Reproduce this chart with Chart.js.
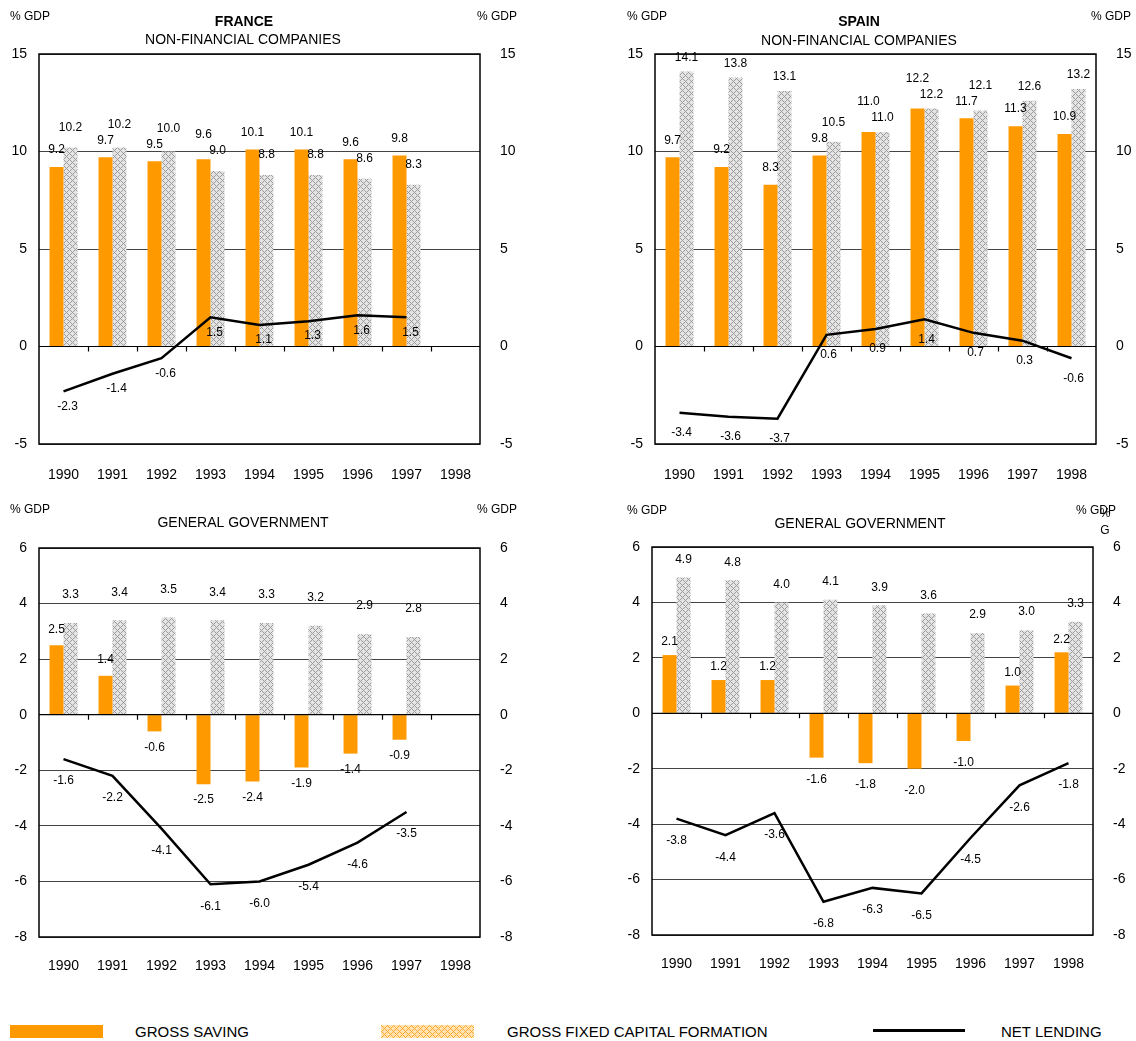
<!DOCTYPE html>
<html>
<head>
<meta charset="utf-8">
<script src="https://cdn.jsdelivr.net/npm/chart.js@4.4.1/dist/chart.umd.min.js"></script>
<style>
  body { margin:0; background:#fff; width:1136px; height:1041px; position:relative; overflow:hidden;
         font-family:"Liberation Sans", Arial, sans-serif; }
  .pane { position:absolute; }
  .lg { position:absolute; font-size:15px; line-height:16px; color:#000; white-space:nowrap; }
</style>
</head>
<body>
<div class="pane" style="left:0;top:0"><canvas id="frNfc" width="560" height="490"></canvas></div>
<div class="pane" style="left:568px;top:0"><canvas id="esNfc" width="568" height="490"></canvas></div>
<div class="pane" style="left:0;top:495px"><canvas id="frGov" width="560" height="490"></canvas></div>
<div class="pane" style="left:568px;top:495px"><canvas id="esGov" width="568" height="490"></canvas></div>

<div class="lg" style="left:10px;top:1025px;width:93px;height:13px;background:#ff9900"></div>
<div class="lg" style="left:135px;top:1024px">GROSS SAVING</div>
<canvas id="lgHatch" class="lg" width="93" height="13" style="left:381px;top:1025px"></canvas>
<div class="lg" style="left:507px;top:1024px">GROSS FIXED CAPITAL FORMATION</div>
<div class="lg" style="left:873px;top:1029px;width:92px;height:3px;background:#000"></div>
<div class="lg" style="left:1001px;top:1024px">NET LENDING</div>

<script>
// années
const years = ['1990', '1991', '1992', '1993', '1994', '1995', '1996', '1997', '1998'];

// France - sociétés non financières
const frNfcSaving  = [9.2, 9.7, 9.5, 9.6, 10.1, 10.1, 9.6, 9.8, null];
const frNfcInvest  = [10.2, 10.2, 10.0, 9.0, 8.8, 8.8, 8.6, 8.3, null];
const frNfcLending = [-2.3, -1.4, -0.6, 1.5, 1.1, 1.3, 1.6, 1.5, null];

// Espagne - sociétés non financières
const esNfcSaving  = [9.7, 9.2, 8.3, 9.8, 11.0, 12.2, 11.7, 11.3, 10.9];
const esNfcInvest  = [14.1, 13.8, 13.1, 10.5, 11.0, 12.2, 12.1, 12.6, 13.2];
const esNfcLending = [-3.4, -3.6, -3.7, 0.6, 0.9, 1.4, 0.7, 0.3, -0.6];

// France - administrations publiques
const frGovSaving  = [2.5, 1.4, -0.6, -2.5, -2.4, -1.9, -1.4, -0.9, null];
const frGovInvest  = [3.3, 3.4, 3.5, 3.4, 3.3, 3.2, 2.9, 2.8, null];
const frGovLending = [-1.6, -2.2, -4.1, -6.1, -6.0, -5.4, -4.6, -3.5, null];

// Espagne - administrations publiques
const esGovSaving  = [2.1, 1.2, 1.2, -1.6, -1.8, -2.0, -1.0, 1.0, 2.2];
const esGovInvest  = [4.9, 4.8, 4.0, 4.1, 3.9, 3.6, 2.9, 3.0, 3.3];
const esGovLending = [-3.8, -4.4, -3.6, -6.8, -6.3, -6.5, -4.5, -2.6, -1.8];

// graduations
const nfcTicks = [-5, 0, 5, 10, 15];
const govTicks = [-8, -6, -4, -2, 0, 2, 4, 6];

const FONT = '"Liberation Sans", Arial, sans-serif';
Chart.defaults.font.family = FONT;
Chart.defaults.color = '#000';

// motif quadrillé des barres FBCF
function hatch(dark, light, n) {
  const t = document.createElement('canvas');
  t.width = n; t.height = n;
  const c = t.getContext('2d');
  c.fillStyle = light; c.fillRect(0, 0, n, n);
  c.fillStyle = dark;
  for (let y = 0; y < n; y++) for (let x = 0; x < n; x++) {
    if ((x + y) % n === 0 || (x - y + n) % n === 0) c.fillRect(x, y, 1, 1);
  }
  return t;
}
const greyHatch = document.getElementById('frNfc').getContext('2d').createPattern(hatch('#9c9c9c', '#e4e4e4', 6), 'repeat');

// légende : carré quadrillé orange
(() => {
  const c = document.getElementById('lgHatch').getContext('2d');
  c.fillStyle = c.createPattern(hatch('#ffaa33', '#ffe2b0', 6), 'repeat');
  c.fillRect(0, 0, 93, 13);
})();

// cadre, ligne du zéro, graduations, étiquettes et en-têtes
const decor = {
  id: 'decor',
  afterDatasetsDraw(chart, args, o) {
    const { ctx, chartArea: a, scales } = chart;
    const xs = scales.x, ys = scales.y;
    const y0 = ys.getPixelForValue(0);
    ctx.save();
    // ligne du zéro + petits traits entre années
    ctx.strokeStyle = '#000'; ctx.lineWidth = 1.2;
    ctx.beginPath(); ctx.moveTo(a.left, y0); ctx.lineTo(a.right, y0); ctx.stroke();
    ctx.beginPath();
    for (let k = 1; k < years.length; k++) {
      const x = Math.round((xs.getPixelForValue(k - 1) + xs.getPixelForValue(k)) / 2) + 0.5;
      ctx.moveTo(x, y0); ctx.lineTo(x, y0 + 5);
    }
    ctx.stroke();
    // cadre
    ctx.lineWidth = 1.5;
    ctx.strokeRect(a.left, a.top, a.right - a.left, a.bottom - a.top);

    // étiquettes de valeurs
    ctx.font = '12px ' + FONT; ctx.fillStyle = '#000';
    ctx.textAlign = 'center'; ctx.textBaseline = 'middle';
    const d = o.dy;
    const sv = chart.data.datasets[0].data, iv = chart.data.datasets[1].data, lv = chart.data.datasets[2].data;
    const sm = chart.getDatasetMeta(0).data, im = chart.getDatasetMeta(1).data, lm = chart.getDatasetMeta(2).data;
    for (let i = 0; i < years.length; i++) {
      let sy = null, iy = null;
      if (sv[i] != null) sy = sv[i] >= 0 ? sm[i].y - d.saveUp : sm[i].y + d.saveDown;
      if (iv[i] != null) iy = im[i].y - d.invUp;
      if (sy != null && iy != null && Math.abs(sy - iy) < 14) {
        if (sv[i] >= iv[i]) sy = iy - 16; else iy = sy - 16;
      }
      if (sy != null) ctx.fillText(sv[i].toFixed(1), sm[i].x, sy);
      if (iy != null) ctx.fillText(iv[i].toFixed(1), im[i].x, iy);
      if (lv[i] != null) ctx.fillText(lv[i].toFixed(1), lm[i].x + d.lineDx, lm[i].y + d.lineDy);
    }

    // en-têtes
    for (const h of o.head) {
      ctx.font = (h.bold ? 'bold ' : '') + h.size + 'px ' + FONT;
      ctx.textAlign = h.align || 'center';
      ctx.fillText(h.text, h.x, h.y);
    }
    ctx.restore();
  }
};

function build(id, cfg) {
  const lo = cfg.ticks[0], hi = cfg.ticks[cfg.ticks.length - 1];
  const step = cfg.ticks[1] - cfg.ticks[0];
  const tickFont = { size: 14, family: FONT };
  return new Chart(document.getElementById(id), {
    type: 'bar',
    data: {
      labels: years,
      datasets: [
        { label: 'GROSS SAVING', data: cfg.saving, backgroundColor: '#ff9900', yAxisID: 'y', order: 1 },
        { label: 'GROSS FIXED CAPITAL FORMATION', data: cfg.invest, backgroundColor: greyHatch, yAxisID: 'y', order: 2 },
        { label: 'NET LENDING', type: 'line', data: cfg.lending, borderColor: '#000', borderWidth: 2.5,
          pointRadius: 0, tension: 0, fill: false, yAxisID: 'y', order: 0 }
      ]
    },
    options: {
      responsive: false,
      maintainAspectRatio: false,
      animation: false,
      categoryPercentage: 0.57,
      barPercentage: 1,
      layout: { padding: { top: cfg.top, left: 0, right: 0, bottom: 0 } },
      plugins: {
        legend: { display: false },
        tooltip: { enabled: false },
        decor: { dy: cfg.dy, head: cfg.head }
      },
      scales: {
        x: {
          grid: { display: false }, border: { display: false },
          ticks: { font: tickFont, color: '#000', padding: cfg.xPad, maxRotation: 0, autoSkip: false },
          afterFit: s => { s.height = cfg.xH; }
        },
        y: {
          position: 'left', min: lo, max: hi,
          ticks: { stepSize: step, font: tickFont, color: '#000', padding: 12 },
          grid: { color: '#444', lineWidth: 1, drawTicks: false }, border: { display: false },
          afterFit: s => { s.width = cfg.leftW; }
        },
        y2: {
          position: 'right', min: lo, max: hi,
          ticks: { stepSize: step, font: tickFont, color: '#000', padding: 12 },
          grid: { display: false }, border: { display: false },
          afterFit: s => { s.width = cfg.rightW; }
        }
      }
    },
    plugins: [decor]
  });
}

const gdp = (x, y) => ({ text: '% GDP', x, y, size: 12, align: 'left' });

build('frNfc', {
  saving: frNfcSaving, invest: frNfcInvest, lending: frNfcLending, ticks: nfcTicks,
  top: 54, xH: 46, xPad: 15, leftW: 39, rightW: 80,
  dy: { saveUp: 17, saveDown: 15, invUp: 20, lineDy: 15, lineDx: 4 },
  head: [gdp(10, 17), gdp(477, 17),
    { text: 'FRANCE', x: 244, y: 22, size: 14, bold: true },
    { text: 'NON-FINANCIAL COMPANIES', x: 243, y: 40, size: 14 }]
});

build('esNfc', {
  saving: esNfcSaving, invest: esNfcInvest, lending: esNfcLending, ticks: nfcTicks,
  top: 54, xH: 46, xPad: 15, leftW: 87, rightW: 40,
  dy: { saveUp: 17, saveDown: 15, invUp: 14, lineDy: 20, lineDx: 2 },
  head: [gdp(59, 17), gdp(523, 17),
    { text: 'SPAIN', x: 291, y: 22, size: 14, bold: true },
    { text: 'NON-FINANCIAL COMPANIES', x: 291, y: 41, size: 14 }]
});

build('frGov', {
  saving: frGovSaving, invest: frGovInvest, lending: frGovLending, ticks: govTicks,
  top: 53, xH: 48, xPad: 13, leftW: 39, rightW: 80,
  dy: { saveUp: 16, saveDown: 16, invUp: 28, lineDy: 22, lineDx: 0 },
  head: [gdp(10, 15), gdp(477, 15),
    { text: 'GENERAL GOVERNMENT', x: 243, y: 28, size: 14 }]
});

build('esGov', {
  saving: esGovSaving, invest: esGovInvest, lending: esGovLending, ticks: govTicks,
  top: 52, xH: 50, xPad: 13, leftW: 84, rightW: 43,
  dy: { saveUp: 13, saveDown: 22, invUp: 18, lineDy: 22, lineDx: 0 },
  head: [gdp(59, 16), gdp(508, 16),
    { text: '%', x: 537, y: 19, size: 12 },
    { text: 'G', x: 537, y: 36, size: 12 },
    { text: 'GENERAL GOVERNMENT', x: 292, y: 29, size: 14 }]
});
</script>
</body>
</html>
